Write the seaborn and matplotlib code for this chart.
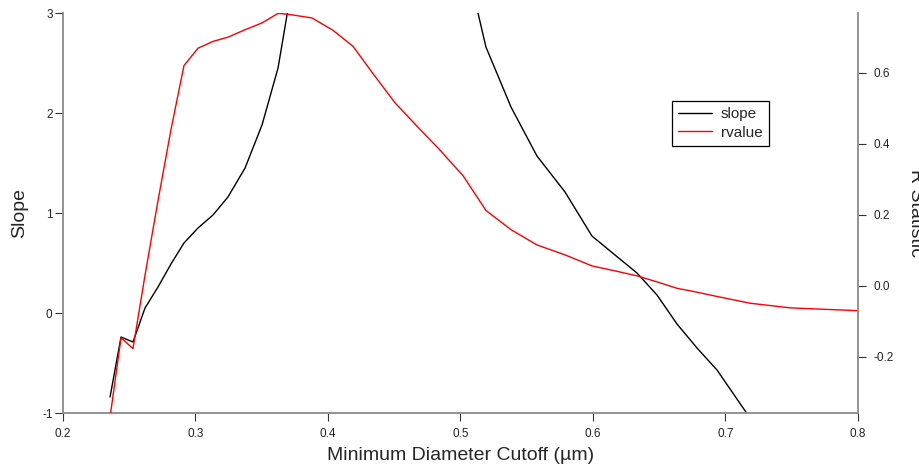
import matplotlib
matplotlib.use("Agg")
import matplotlib.pyplot as plt
import seaborn as sns
import numpy as np
import pandas as pd

# ---- data ----
diameter = [0.2355, 0.2438, 0.2528, 0.2619, 0.2717, 0.2815, 0.2913, 0.3019,
            0.3132, 0.3245, 0.3374, 0.3502, 0.3623, 0.3706, 0.3879, 0.4038,
            0.4189, 0.4340, 0.4506, 0.4672, 0.4830, 0.5019, 0.5192, 0.5381,
            0.5577, 0.5789, 0.5992, 0.6166, 0.6332, 0.6483, 0.6634, 0.6785,
            0.6936, 0.7185, 0.7487, 0.8000]
slope = [-0.84, -0.24, -0.29, 0.05, 0.26, 0.49, 0.70, 0.85,
         0.98, 1.16, 1.45, 1.88, 2.45, 3.10, 3.60, 3.95,
         4.20, 4.35, 4.40, 4.30, 4.05, 3.64, 2.66, 2.06,
         1.57, 1.21, 0.77, 0.58, 0.40, 0.18, -0.11, -0.35,
         -0.57, -1.05, -1.40, -1.90]
rvalue = [-0.37, -0.146, -0.177, 0.03, 0.24, 0.44, 0.62, 0.669,
          0.688, 0.700, 0.721, 0.740, 0.767, 0.764, 0.754, 0.719,
          0.674, 0.597, 0.515, 0.449, 0.388, 0.310, 0.212, 0.158,
          0.115, 0.087, 0.056, 0.042, 0.028, 0.011, -0.007, -0.018,
          -0.030, -0.049, -0.062, -0.070]

x_ticks = [0.2, 0.3, 0.4, 0.5, 0.6, 0.7, 0.8]
left_ticks = [-1, 0, 1, 2, 3]
right_ticks = [-0.2, 0.0, 0.2, 0.4, 0.6]

df = pd.DataFrame({"diameter": diameter, "slope": slope, "rvalue": rvalue})

sns.set_style("white")
plt.rcParams["font.family"] = ["Liberation Sans", "DejaVu Sans"]

fig = plt.figure(figsize=(9.19, 4.70), dpi=100)
ax = fig.add_axes([63 / 919, 1 - 413 / 470, 795 / 919, 400 / 470])
ax2 = ax.twinx()

sns.lineplot(data=df, x="diameter", y="slope", ax=ax, color="black",
             linewidth=1.0, label="slope", legend=False, sort=False)
sns.lineplot(data=df, x="diameter", y="rvalue", ax=ax2, color="#ff0000",
             linewidth=1.0, label="rvalue", legend=False, sort=False)

ax.set_xlim(0.2, 0.8)
ax.set_ylim(-1, 3)
ax2.set_ylim(-0.358, 0.768)

ax.set_xticks(x_ticks)
ax.set_xticklabels([f"{v:.1f}" for v in x_ticks])
ax.set_yticks(left_ticks)
ax.set_yticklabels([str(v) for v in left_ticks])
ax2.set_yticks(right_ticks)
ax2.set_yticklabels([f"{v:.1f}" for v in right_ticks])

spine_col = "#8a8a8a"
for a in (ax, ax2):
    for s in a.spines.values():
        s.set_visible(False)
ax.spines["left"].set_visible(True)
ax.spines["bottom"].set_visible(True)
ax2.spines["right"].set_visible(True)
for s in (ax.spines["left"], ax.spines["bottom"], ax2.spines["right"]):
    s.set_color(spine_col)
    s.set_linewidth(1.3)

ax.tick_params(axis="y", which="major", direction="out", length=5.5, width=0.8,
               color="#333333", labelsize=8.5, labelcolor="#222222", pad=2,
               left=True)
ax.tick_params(axis="x", which="major", direction="out", length=5.5, width=0.8,
               color="#333333", labelsize=8.5, labelcolor="#222222", pad=5,
               bottom=True)
ax2.tick_params(axis="y", direction="out", length=5.5, width=0.8,
                color="#333333", labelsize=8.5, labelcolor="#222222", pad=6, right=True)

ax.set_xlabel("Minimum Diameter Cutoff (µm)", fontsize=14, labelpad=5)
ax.set_ylabel("Slope", fontsize=14, labelpad=10)
ax2.set_ylabel("")
fig.text(907 / 919, 1 - 213 / 470, "R Statistic", rotation=-90, fontsize=14,
         ha="left", va="center")

h1, l1 = ax.get_legend_handles_labels()
h2, l2 = ax2.get_legend_handles_labels()
leg = ax2.legend(h1 + h2, l1 + l2, loc="upper left",
                 bbox_to_anchor=((672 - 63) / 795, (413 - 101) / 400),
                 borderaxespad=0, fontsize=11, frameon=True, fancybox=False,
                 framealpha=1, edgecolor="black", handlelength=2.2,
                 handletextpad=0.6, labelspacing=0.3, borderpad=0.4)
leg.get_frame().set_linewidth(0.9)

fig.savefig("out.png", dpi=100)
